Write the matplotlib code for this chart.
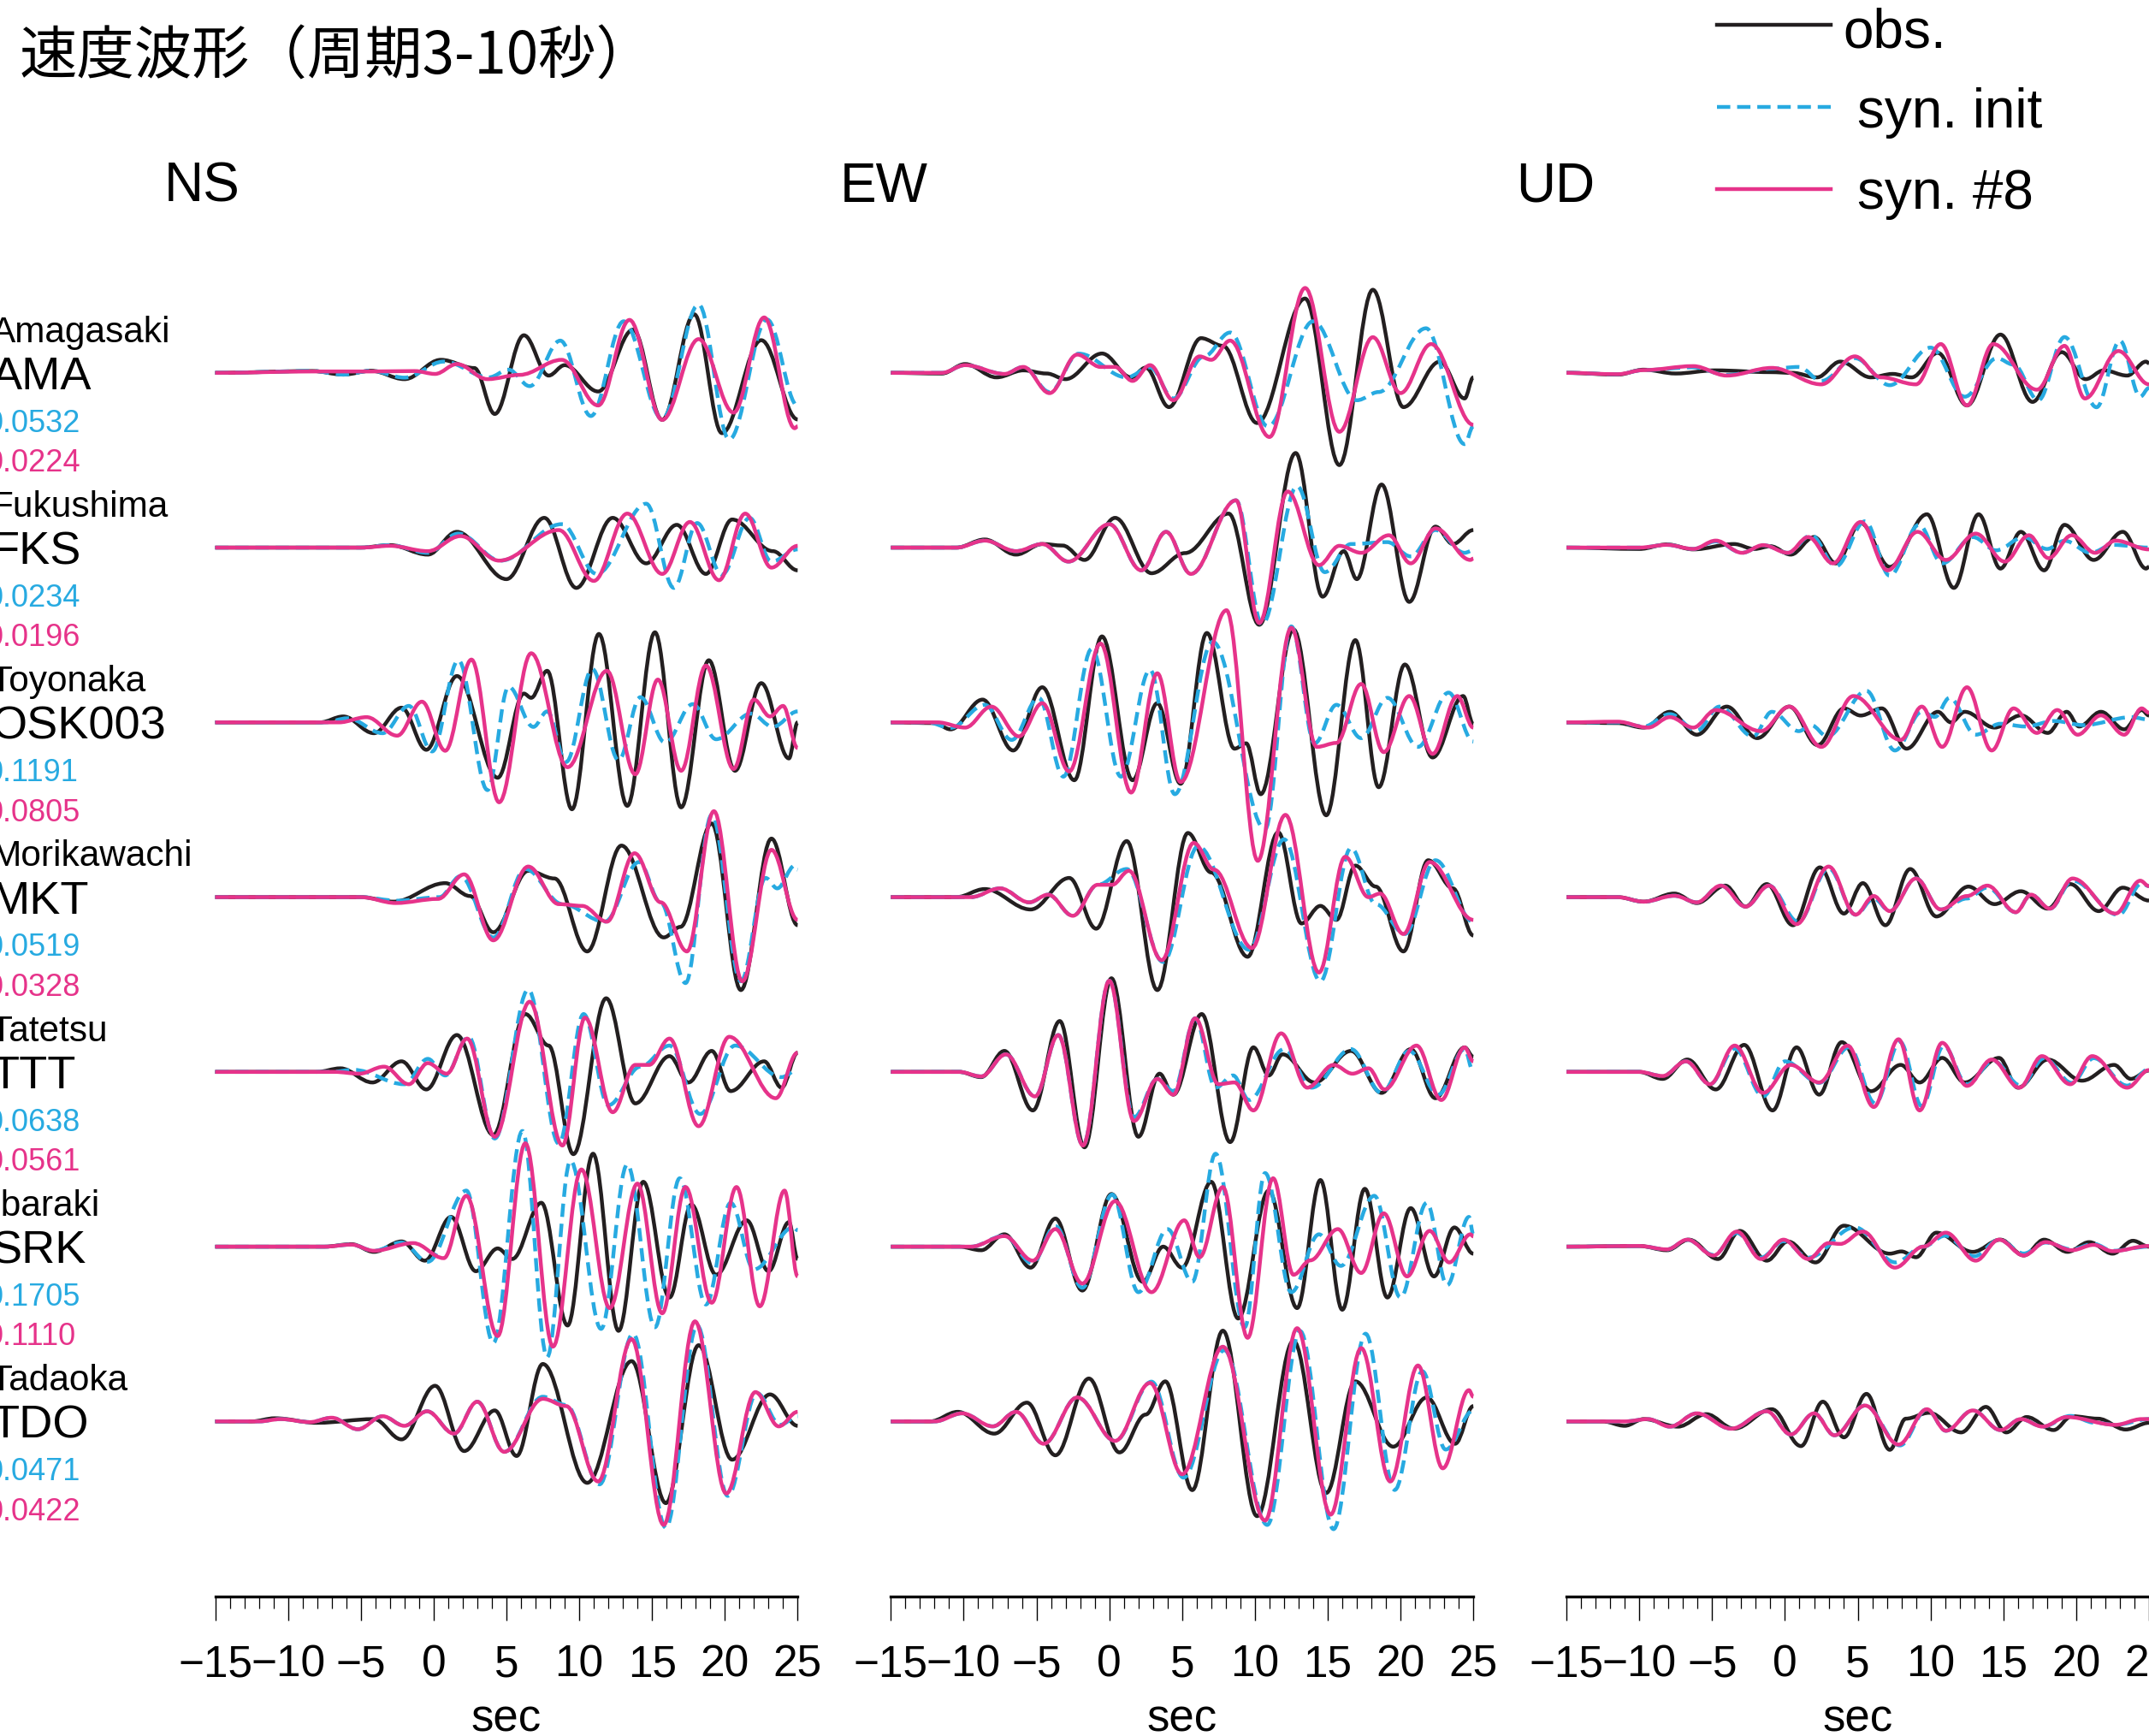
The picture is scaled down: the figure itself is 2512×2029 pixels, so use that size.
import matplotlib
matplotlib.use("Agg")
import matplotlib.pyplot as plt
from matplotlib.path import Path
from matplotlib.patches import PathPatch
from matplotlib.lines import Line2D

plt.rcParams['font.family'] = ['Liberation Sans', 'DejaVu Sans']

COMPONENTS = ["NS", "EW", "UD"]
STATIONS = ["AMA", "FKS", "OSK003", "MKT", "TTT", "SRK", "TDO"]
STATION_NAMES = ["Amagasaki", "Fukushima", "Toyonaka", "Morikawachi",
                 "Tatetsu", "Ibaraki", "Tadaoka"]
MISFIT_INIT = ["0.0532", "0.0234", "0.1191", "0.0519", "0.0638", "0.1705", "0.0471"]
MISFIT_8 = ["0.0224", "0.0196", "0.0805", "0.0328", "0.0561", "0.1110", "0.0422"]
TITLE = "速度波形（周期3-10秒）"
LEGEND_LABELS = ["obs.", "syn. init", "syn. #8"]

# waveform extrema: (time [s], amplitude [px, up positive])
# ---- NS ----
NS_AMA_OBS = [(-15, 0), (-8.3, 1.3), (-6.2, -1.3), (-4.3, 1.5), (-2.0, -4.6), (0.5, 9.5), (2.8, 3.5),
              (4.2, -30), (6.2, 27.4), (7.9, -2), (9.0, 5.6), (11.3, -13.6), (13.7, 31.5), (15.7, -34.3),
              (17.9, 42.7), (19.8, -44), (22.5, 23.8), (25, -34)]
NS_AMA_INIT = [(-15, 0), (-8.3, 1.3), (-6.2, -1.3), (-4.3, 1.5), (-2.0, -3.5), (0.7, 8.2), (3.8, -3.3),
               (5.15, 2.3), (6.6, -9.7), (8.7, 23.5), (10.8, -31.5), (13.05, 37.6), (15.7, -33.5),
               (18.2, 49.9), (20.3, -48.6), (22.9, 38.9), (25, -24)]
NS_AMA_S8 = [(-15, 0), (-8.3, 1), (-4.3, 1), (-1.3, 1.3), (0.1, -0.8), (1.6, 6.4), (3.7, -4.6), (5.9, -1.5),
             (8.8, 9.5), (11.3, -23.8), (13.45, 38.6), (15.7, -34.3), (18.2, 24.6), (20.6, -29),
             (22.7, 40.4), (24.8, -40.4), (25, -39)]

NS_FKS_OBS = [(-15, 0), (-5, 0), (-3.0, 1.8), (-0.4, -5.1), (1.6, 11.5), (5.0, -23), (7.6, 21.7),
              (9.8, -29.4), (12.3, 21.7), (14.6, -11.5), (16.7, 16.6), (18.7, -19.2), (20.5, 20.5),
              (23.3, -2.6), (25, -16.6)]
NS_FKS_INIT = [(-15, 0), (-5, 0), (-3.0, 1.8), (-0.4, -3.8), (1.7, 10.2), (4.6, -9.5), (8.8, 17.1),
               (11.2, -19.2), (14.6, 32), (16.5, -29.4), (18.1, 17.9), (19.8, -19.7), (21.7, 21.7),
               (23.2, -10.2), (25, -1.3)]
NS_FKS_S8 = [(-15, 0), (-5, 0), (-3.0, 1.3), (-0.4, -2.6), (1.85, 8.4), (4.5, -9.5), (8.6, 12.8),
             (11.0, -24.3), (13.3, 24.8), (15.7, -19.2), (17.6, 18.7), (19.6, -23.8), (21.4, 24.8),
             (23.2, -14.6), (25, 1.3)]

NS_OSK003_OBS = [(-15, 0), (-7.8, 0), (-6.2, 4.3), (-4.1, -7.9), (-2.2, 10.7), (-0.5, -20), (1.6, 33.8),
                 (4.4, -40.4), (6.2, 21), (6.7, 17.9), (7.8, 37.6), (9.5, -63.4), (11.35, 64.5),
                 (13.3, -60.9), (15.2, 65.7), (17.0, -62), (18.9, 45.3), (20.7, -35.3), (22.5, 28.6),
                 (24.4, -26.3), (25, 0)]
NS_OSK003_INIT = [(-15, 0), (-7.5, 0), (-5.9, 3), (-3.5, -7.9), (-1.7, 12), (-0.1, -21.2), (1.7, 45.3),
                  (3.7, -49.4), (5.15, 26), (6.85, -3.3), (7.8, 8), (9.1, -28.9), (10.9, 38.9),
                  (12.7, -27.6), (14.2, 18.4), (15.9, -14.8), (17.8, 13.3), (19.4, -12.3), (21.8, 6.4),
                  (23.3, -3.3), (25, 8)]
NS_OSK003_S8 = [(-15, 0), (-6.5, 0), (-4.6, 3.8), (-2.5, -9.7), (-0.8, 15.1), (0.8, -20.7), (2.6, 45.8),
                (4.5, -58.3), (6.7, 50.4), (9.2, -32.7), (11.9, 37.6), (13.85, -37.9), (15.4, 31.2),
                (17.0, -35.3), (18.7, 41.4), (20.6, -34), (22.0, 16.6), (23.1, 4.3), (24.0, 12),
                (25, -18.7)]

NS_MKT_OBS = [(-15, 0), (-5, 0), (-2.75, -3.3), (0.8, 10.2), (2.5, 0.8), (4.1, -25.6), (6.5, 19.2),
              (8.3, 13.6), (10.55, -39.6), (12.9, 37.6), (15.8, -29.4), (16.95, -21.7), (19.1, 53.7),
              (21.1, -67.8), (23.2, 42.7), (25, -20.5)]
NS_MKT_INIT = [(-15, 0), (-5, 0), (-2.5, -2.6), (0.4, 0), (1.85, 15.3), (4.1, -29.4), (6.3, 20.5),
               (8.85, -5.1), (11.75, -17.9), (14.1, 25.6), (15.6, -4), (17.3, -62.7), (19.1, 60),
               (21.1, -61.4), (22.8, 14), (23.6, 6.4), (24.8, 23), (25, 20)]
NS_MKT_S8 = [(-15, 0), (-5, 0), (-2.6, -4.3), (0.3, -1.3), (2.1, 16.6), (4.1, -31.5), (6.5, 22.3),
             (8.6, -5.1), (10.2, -6.4), (11.9, -17.9), (13.8, 32), (15.6, -3.8), (17.4, -39.6),
             (19.25, 62.7), (21.2, -61.4), (23.2, 34.5), (25, -16.6)]

NS_TTT_OBS = [(-15, 0), (-8, 0), (-6.4, 2.6), (-4.2, -7.7), (-2.2, 7.7), (-0.5, -12.8), (1.6, 26.9),
              (4.1, -46), (6.3, 42.2), (7.9, 19.2), (9.6, -60), (11.85, 53.7), (13.85, -23), (16.2, 11.5),
              (17.5, -7.7), (19.1, 15.3), (20.4, -14), (22.7, 7.7), (23.9, -11.5), (25, 14)]
NS_TTT_INIT = [(-15, 0), (-7, 0), (-5.5, 1.5), (-2.0, -9), (-0.4, 9.5), (0.8, -2.6), (2.4, 25.6),
               (4.2, -48.6), (6.5, 60), (8.6, -52.4), (10.3, 42.2), (12.0, -24.3), (14.2, 3.8),
               (16.2, 19.2), (18.3, -30.7), (20.7, 19.2), (23.9, -3.8), (25, 1.5)]
NS_TTT_S8 = [(-15, 0), (-6.8, 0), (-5.1, -1.3), (-3.4, 3.8), (-1.7, -9), (-0.4, 6.4), (0.9, -1.3),
             (2.3, 24.3), (4.2, -47.3), (6.6, 51.2), (8.85, -53.7), (10.4, 39.6), (12.3, -29.4),
             (13.85, 5.1), (14.8, 5.1), (16.2, 24.3), (18.2, -39.6), (20.3, 25.6), (23.5, -19.2), (25, 14)]

NS_SRK_OBS = [(-15, 0), (-7.5, 0), (-5.65, 1.8), (-4.1, -3.8), (-2.2, 3.8), (-0.6, -10.2), (1.2, 21.7),
              (2.9, -17.9), (4.4, -1.3), (5.4, -9), (7.4, 32), (9.2, -57.5), (10.95, 67.8), (12.7, -61.4),
              (14.4, 47.3), (16.2, -37.1), (17.7, 30.7), (19.4, -20.5), (21.5, 19.2), (23.0, -17.9),
              (24.4, 17.9), (25, -9)]
NS_SRK_INIT = [(-15, 0), (-7.5, 0), (-5.65, 1.5), (-4.1, -3), (-2.2, 3), (-0.4, -11), (2.25, 40.9),
               (4.1, -70.3), (6.1, 84.4), (7.8, -80.6), (9.4, 62.7), (11.5, -60), (13.3, 60),
               (15.2, -58.8), (16.9, 49.9), (18.7, -42.2), (20.4, 32), (22.0, -16.6), (24.7, 14), (25, 12)]
NS_SRK_S8 = [(-15, 0), (-7.5, 0), (-5.65, 1.5), (-4.1, -3), (-1.4, 2.6), (0.7, -8.4), (2.25, 37.1),
             (4.4, -65.2), (6.3, 75.4), (8.2, -72.9), (10.15, 56.3), (12.1, -44.8), (14.0, 46),
             (15.7, -48.6), (17.3, 43.5), (19.1, -40.9), (20.8, 43.5), (22.4, -43.5), (24.1, 40.9),
             (25, -21.7)]

NS_TDO_OBS = [(-15, 0), (-12.5, 0), (-10.9, 2.3), (-8, -1), (-4.1, 1.7), (-2.2, -13.1), (0.1, 26),
              (2.1, -21.6), (4.2, 8), (5.7, -25.2), (7.5, 41.9), (10.55, -44.8), (13.6, 44),
              (15.95, -59.6), (18.2, 55.6), (20.5, -27.9), (23.1, 19.7), (25, -3.2)]
NS_TDO_INIT = [(-15, 0), (-12, 0), (-10.5, 1.7), (-8.5, -0.5), (-7, 2.7), (-5.2, -5.7), (-3.5, 3.8),
               (-2.0, -3.2), (-0.45, 7.4), (1.4, -8.9), (3.0, 14.4), (4.85, -22.2), (7.5, 18), (9.1, 12),
               (11.4, -45.9), (13.7, 64), (15.95, -77.6), (18.1, 70), (20.2, -54.3), (22.2, 20.7),
               (23.8, -2.5), (25, 3.8)]
NS_TDO_S8 = [(-15, 0), (-12, 0), (-10.5, 1.7), (-8.5, -0.5), (-7, 2.7), (-5.2, -5.7), (-3.5, 3.8),
             (-2.0, -3.2), (-0.45, 7.4), (1.4, -8.9), (3.0, 14.4), (4.85, -22.2), (7.5, 16.5), (9.1, 11.2),
             (11.3, -43.8), (13.6, 60), (15.8, -75.5), (17.95, 73), (20.1, -52.6), (22.1, 21.4),
             (23.7, -3.6), (25, 7)]

# ---- EW ----
EW_AMA_OBS = [(-15, 0), (-11.5, -0.5), (-9.9, 6.4), (-7.75, -3.3), (-5.9, 1.8), (-4.3, -0.5), (-3.0, -4.6),
              (-0.5, 14.1), (1.5, -3.3), (2.5, 3.8), (4.1, -25), (6.3, 25.3), (7.8, 19.7), (10.15, -36.6),
              (13.45, 54.2), (15.8, -67.3), (18.1, 60.6), (20.2, -25), (22.7, 8.2), (24.4, -18.7),
              (25, -3.3)]
EW_AMA_INIT = [(-15, 0), (-11.5, 0), (-9.9, 5.6), (-7.2, -0.8), (-5.9, 4.3), (-4.1, -14), (-2.1, 14),
               (1.2, -3.3), (2.8, 4), (4.4, -18.7), (6.5, 12), (8.3, 29.4), (10.9, -39.1), (14.0, 37.6),
               (17.0, -20), (18.5, -14), (21.75, 32.5), (24.4, -52), (25, -39)]
EW_AMA_S8 = [(-15, 0), (-11.5, 0), (-9.9, 5.6), (-7.2, -0.8), (-5.9, 4.3), (-4.1, -14.8), (-2.2, 13.3),
             (-0.6, 4.3), (0.4, 4.3), (1.6, -5.9), (2.8, 5.6), (4.4, -20), (6.2, 12), (7.0, 9.5),
             (8.3, 23.5), (11.0, -46.8), (13.45, 61.9), (15.8, -43), (18.1, 26), (20.0, -14.8),
             (22.1, 21), (25, -37.9)]

EW_FKS_OBS = [(-15, 0), (-10.5, 0), (-8.55, 5.9), (-6.4, -5.1), (-4.6, 2.6), (-3.2, 1.5), (-1.7, -9),
              (0.4, 21.7), (2.9, -18.7), (5.2, -4), (8.2, 24.8), (10.3, -56.3), (12.8, 69), (14.65, -35.8),
              (16.1, -2.6), (17.0, -23), (18.7, 46), (20.6, -39.6), (22.4, 15.3), (23.6, 2.6),
              (25, 12.8)]
EW_FKS_INIT = [(-15, 0), (-10.5, 0), (-8.55, 5.1), (-6.4, -2.6), (-4.6, 2.6), (-2.8, -10.2), (0.0, 17.1),
               (2.2, -16.6), (3.9, 11.5), (5.6, -19.2), (8.7, 34.5), (10.5, -56), (12.9, 44.8),
               (14.8, -17.9), (16.6, 2.6), (19.1, 4), (20.7, -6.4), (22.4, 12.8), (24.4, -3.8), (25, -2)]
EW_FKS_S8 = [(-15, 0), (-10.5, 0), (-8.55, 5.1), (-6.4, -2.6), (-4.6, 2.6), (-2.8, -10.2), (0.0, 17.1),
             (2.2, -16.6), (3.9, 11.5), (5.6, -19.2), (8.7, 34.5), (10.3, -55), (12.25, 40.9),
             (14.4, -12.8), (15.8, 1.3), (17.3, -3.8), (19.2, 9), (20.7, -11.5), (22.4, 14), (24.8, -9),
             (25, -8)]

EW_OSK003_OBS = [(-15, 0), (-12, -0.5), (-10.9, -5.1), (-8.7, 16.6), (-6.6, -20.5), (-4.6, 25.6),
                 (-2.4, -42.2), (-0.5, 62.7), (1.6, -42.2), (3.3, 14), (4.9, -44.8), (6.7, 65.2),
                 (8.6, -19.2), (9.4, -15.3), (10.4, -52.4), (12.65, 67.8), (14.9, -67.8), (16.9, 60),
                 (18.5, -47.3), (20.3, 42.2), (22.2, -25.6), (24.3, 19.2), (25, -1.3)]
EW_OSK003_INIT = [(-15, 0), (-12.5, 0), (-10.9, -4), (-8.55, 12.8), (-6.7, -12.8), (-4.85, 17.9),
                  (-3.15, -39.6), (-1.2, 53.7), (0.8, -39.6), (2.8, 38.4), (4.5, -52.4), (7.1, 58.8),
                  (10.7, -78), (12.5, 70), (14.1, -15.3), (15.6, 12.8), (17.3, -11.5), (19.1, 17.9),
                  (21.2, -17.9), (23.3, 21.7), (25, -14)]
EW_OSK003_S8 = [(-15, 0), (-11.8, 0), (-9.9, -3.8), (-8.1, 11.5), (-6.2, -10.2), (-4.6, 14), (-2.75, -35.8),
                (-0.6, 57.5), (1.5, -51.2), (3.3, 35.8), (4.9, -43.5), (8.05, 81.8), (10.2, -101),
                (12.5, 69), (14.25, -17.9), (15.6, -15), (17.3, 28), (18.85, -21.7), (20.6, 19.2),
                (22.2, -23), (23.9, 19.2), (25, -3.8)]

EW_MKT_OBS = [(-15, 0), (-10.5, 0), (-8.55, 5.9), (-5.4, -9), (-2.75, 14), (-0.9, -23), (1.2, 40.9),
              (3.3, -67.8), (5.4, 46.8), (7.0, 18), (9.5, -43.5), (11.6, 47.3), (13.2, -19.2),
              (14.5, -6.4), (15.6, -16.6), (16.9, 23), (18.3, 7.7), (20.2, -39.6), (21.9, 26.9),
              (23.6, 6.4), (25, -28)]
EW_MKT_INIT = [(-15, 0), (-9.5, 0), (-7.5, 6.4), (-5.5, -3.8), (-4.2, 1.8), (-2.5, -13.6), (-0.8, 9),
               (1.2, 20.5), (3.7, -47.3), (6.1, 37.1), (9.6, -38.4), (12.0, 42.2), (14.5, -61.4),
               (16.6, 35.8), (18.3, -5.1), (20.3, -26.9), (22.4, 26.9), (25, -18)]
EW_MKT_S8 = [(-15, 0), (-9.5, 0), (-7.5, 6.4), (-5.5, -3.8), (-4.2, 1.8), (-2.5, -13.6), (-0.8, 9),
             (0.2, 9), (1.35, 19.2), (3.6, -46), (5.8, 39.6), (7.2, 20), (9.8, -37.1), (12.1, 60),
             (14.4, -55), (16.2, 29.4), (17.8, 0), (18.6, 2.6), (20.2, -26.9), (22.0, 25.6), (25, -16.6)]

EW_TTT_OBS = [(-15, 0), (-10.3, 0), (-8.8, -3.8), (-7.2, 15.3), (-5.25, -28.1), (-3.4, 37.1), (-1.7, -55),
              (0.15, 68.3), (2.0, -47.3), (3.45, -1.3), (4.4, -16.6), (6.35, 42.2), (8.3, -51.2),
              (9.9, 17.9), (10.95, -2.6), (11.9, 12.8), (14.1, -7.7), (16.6, 15.3), (18.7, -15.3),
              (20.7, 16.6), (22.4, -19.2), (24.4, 17.9), (25, 11)]
EW_TTT_INIT = [(-15, 0), (-10.3, 0), (-8.8, -3.3), (-7.1, 12.8), (-5.1, -17.9), (-3.5, 26.9),
               (-1.8, -53.7), (0.0, 66.5), (1.7, -33), (3.3, -5.1), (4.4, -14), (5.9, 39.1), (7.3, -11.5),
               (8.5, -2.6), (9.6, -20.5), (12.0, 16.6), (13.9, -11.5), (16.6, 16.6), (18.7, -15.3),
               (20.6, 15.3), (22.6, -16.6), (24.4, 16.6), (25, 0)]
EW_TTT_S8 = [(-15, 0), (-10.3, 0), (-8.8, -3.3), (-7.1, 12.8), (-5.1, -17.9), (-3.5, 26.9), (-1.8, -53.7),
             (0.0, 66.5), (1.7, -35.8), (3.3, -5.1), (4.4, -16.6), (5.9, 39.1), (7.5, -9), (8.6, -7.7),
             (9.9, -28.1), (11.8, 28.1), (13.6, -11.5), (15.4, 5.1), (16.7, -1.3), (17.8, 2.6),
             (18.9, -12.8), (21.1, 19.2), (22.8, -20.5), (24.4, 17.9), (25, 7.7)]

EW_SRK_OBS = [(-15, 0), (-10.3, 0), (-8.8, -2.6), (-7.2, 9), (-5.4, -15.3), (-3.7, 20.5), (-1.85, -32),
              (0.15, 38.4), (2.3, -25.6), (3.7, 0), (5.0, -15.3), (7.0, 47.3), (8.85, -52.4),
              (10.95, 40.9), (12.9, -44.8), (14.5, 48.6), (16.0, -46), (17.55, 42.2), (19.1, -37.1),
              (20.7, 28.1), (22.3, -21.7), (23.7, 14), (25, -5.1)]
EW_SRK_INIT = [(-15, 0), (-9.5, 0), (-7.2, 8), (-5.3, -12), (-3.7, 15), (-1.85, -30), (0.2, 38),
               (2.0, -33.2), (4.0, 12.8), (5.7, -25.6), (7.3, 67.8), (9.3, -58.8), (10.7, 53.7),
               (12.5, -33.2), (14.4, 9), (15.9, -14), (18.2, 37.1), (20.0, -37.1), (21.8, 32),
               (23.2, -28.1), (24.7, 21.7), (25, 9)]
EW_SRK_S8 = [(-15, 0), (-9.5, 0), (-7.2, 7.7), (-5.25, -10.2), (-3.7, 12.8), (-1.85, -26.9), (0.4, 33.2),
             (2.9, -33.2), (5.15, 19.2), (6.2, -7.7), (7.8, 43.5), (9.5, -66.5), (11.25, 49.9),
             (12.65, -20.5), (13.8, -10), (15.7, 12.8), (17.3, -19.2), (18.85, 24.3), (20.45, -21.7),
             (22.0, 11.5), (23.35, -11.5), (24.8, 9), (25, 7.5)]

EW_TDO_OBS = [(-15, 0), (-12.3, 0), (-10.4, 7), (-7.9, -8.9), (-5.65, 13.7), (-3.7, -24.7), (-1.4, 31.3),
              (0.7, -22.6), (2.5, 5), (3.85, 29.2), (5.7, -50.1), (7.8, 66.2), (10.15, -69.1),
              (12.65, 58.8), (14.9, -52.2), (16.9, 29.2), (19.5, -18.4), (21.8, 17.5), (23.75, -16.3),
              (25, 11.2)]
EW_TDO_INIT = [(-15, 0), (-12, 0), (-10.1, 5.9), (-8.0, -3.6), (-6.4, 7), (-4.5, -16.3), (-2.2, 17.5),
               (0.4, -14.2), (2.9, 29), (5.1, -41), (7.9, 52), (10.85, -75.5), (13.1, 66), (15.4, -78.6),
               (17.6, 64), (19.6, -50), (21.5, 36.6), (23.1, -20.5), (25, 8)]
EW_TDO_S8 = [(-15, 0), (-12, 0), (-10.1, 5.9), (-8.0, -3.6), (-6.4, 7), (-4.5, -16.3), (-2.2, 17.5),
             (0.4, -14.2), (2.8, 28.1), (5.0, -38.5), (7.8, 54.5), (10.7, -72.3), (12.9, 68), (15.2, -68),
             (17.3, 53.5), (19.3, -43.8), (21.2, 40.8), (22.9, -34.2), (24.7, 22.8), (25, 18)]

# ---- UD ----
UD_AMA_OBS = [(-15, 0), (-11.5, -1.3), (-9.7, 2.3), (-7.5, -0.5), (-4.8, 1.8), (-1, 0.5), (0.5, 0),
              (2.2, -3.3), (3.8, 8.2), (5.9, -3.3), (7.4, -0.8), (8.7, -3.3), (10.5, 14.6), (12.5, -23.8),
              (14.8, 27.9), (17.0, -21.2), (19.0, 15.1), (20.65, -4.6), (21.9, 1.8), (23.5, -2),
              (24.8, 8.2), (25, 7)]
UD_AMA_INIT = [(-15, 0), (-11.5, -1), (-9.7, 2), (-6.3, 4), (-4, -1.5), (-0.9, 3), (0.95, 4.3), (2.5, -5.9),
               (4.8, 10.7), (7.2, -9), (10.0, 18.4), (12.35, -17.4), (14.55, 10.7), (15.7, 6), (17.4, -20),
               (19.2, 26.1), (21.4, -25.1), (23.0, 23.5), (24.4, -17.4), (25, -11)]
UD_AMA_S8 = [(-15, 0), (-11.5, -1), (-9.7, 2), (-6.3, 4.9), (-4.0, -2), (-0.9, 3.6), (2.5, -8.4), (4.8, 12),
             (6.6, -3.3), (9.0, -8.4), (10.7, 21), (12.5, -23.8), (14.3, 21), (17.3, -12.3), (19.2, 19.7),
             (20.6, -18.7), (22.9, 15.9), (25, -8.4)]

UD_FKS_OBS = [(-15, 0), (-10, -1), (-8.1, 2.3), (-6.3, -1.3), (-3.5, 2.6), (-2.1, -1), (-1, 1), (0.4, -5.1),
              (2.0, 7.7), (3.5, -11.5), (5.2, 17.9), (7.2, -14.1), (9.75, 24.3), (11.6, -29.4),
              (13.3, 24.3), (14.8, -15.3), (16.2, 11.5), (17.8, -16.6), (19.2, 16.6), (21.2, -9),
              (23.2, 11.5), (24.8, -15.3), (25, -14)]
UD_FKS_INIT = [(-15, 0), (-10, 0), (-8.1, 2), (-6.3, -1), (-4.75, 4.5), (-2.95, -3.8), (-1.5, 1.8),
               (0.2, -3.8), (1.8, 9), (3.5, -13.6), (5.5, 19.2), (7.2, -20.5), (9.2, 16.6), (10.8, -11.5),
               (12.9, 7.7), (14.5, -2), (16.4, 7.7), (18, -1), (19.2, 5), (21.0, -3.8), (22.5, 2), (25, 0)]
UD_FKS_S8 = [(-15, 0), (-10, 0), (-8.1, 2), (-6.3, -1), (-4.75, 5.1), (-2.95, -3.8), (-1.5, 1.8),
             (0.2, -3.8), (1.6, 7.7), (3.3, -11.5), (5.2, 18.7), (7.05, -16.6), (9.1, 11.5), (11.05, -9),
             (13.1, 10.2), (15.1, -10.2), (16.75, 9), (18.1, -7.7), (19.7, 9), (21.3, -3.8), (22.7, 5.1),
             (25, -1.3)]

UD_OSK003_OBS = [(-15, 0), (-11.5, -0.5), (-9.7, -3.8), (-7.9, 7.7), (-6.05, -9), (-4.0, 11.5),
                 (-1.9, -11.5), (0.3, 11.5), (2.25, -16.6), (4.05, 10.2), (5.2, 5), (6.65, 10.2),
                 (8.35, -19.2), (10.5, 7.7), (11.4, 0), (12.35, 7.7), (14.4, -3.8), (16.2, 5.1),
                 (18.05, -7.7), (19.35, 7.7), (20.2, -3), (21.7, 7.7), (23.3, -5.1), (24.5, 9), (25, 5)]
UD_OSK003_INIT = [(-15, 0), (-11.5, 0), (-9.7, -3), (-7.9, 6), (-6.05, -6), (-4.5, 11.5), (-2.2, -10.2),
                  (-0.9, 7.7), (0.95, -6.4), (1.8, -2), (2.9, -10.2), (5.6, 23), (7.55, -20.5), (9.4, 7.7),
                  (10.3, 4), (11.3, 17.9), (13.1, -9), (14.8, -1), (16.5, -3), (18.5, 1), (20.5, -2),
                  (23.8, 3.8), (25, 2)]
UD_OSK003_S8 = [(-15, 0), (-11.5, 0.5), (-9.4, -3.8), (-7.9, 3.8), (-6.3, -3.8), (-4.75, 9), (-1.65, -6.4),
                (0.3, 11.5), (2.5, -17.9), (4.7, 19.2), (7.95, -12.8), (9.4, 11.5), (10.8, -17.9),
                (12.5, 25.6), (14.2, -20.5), (15.7, 10.2), (17.3, -7.7), (18.7, 9), (20.1, -9), (21.7, 5.1),
                (23.3, -9), (24.5, 10.2), (25, 7)]

UD_MKT_OBS = [(-15, 0), (-11.5, 0), (-9.7, -3.3), (-7.6, 2.6), (-6.05, -4.3), (-4.1, 8.4), (-2.7, -6.9),
              (-1.25, 9.5), (0.55, -20.5), (2.4, 21.7), (4.05, -12), (5.35, 10.2), (6.9, -20.5),
              (8.6, 20.5), (10.4, -14.1), (12.6, 7.7), (14.4, -5.1), (16.2, 4.3), (18.05, -8.4),
              (19.6, 9.5), (21.55, -10.2), (23.2, 6.9), (25, -2.5)]
UD_MKT_INIT = [(-15, 0), (-11.5, 0), (-9.7, -3.3), (-7.6, 1), (-6.05, -3.8), (-4.4, 8.4), (-2.7, -6.9),
               (-1.1, 8.4), (0.9, -17.9), (3.0, 21), (4.85, -12.8), (6.1, -1), (7.2, -10.2), (9.0, 13.6),
               (10.7, -9), (12.5, -1), (13.9, 7), (15.85, -11), (16.9, 1.8), (18.2, -8.4), (19.75, 12),
               (22.9, -13), (24.5, 10), (25, 8)]
UD_MKT_S8 = [(-15, 0), (-11.5, 0), (-9.7, -3.3), (-7.6, 1), (-6.05, -3.8), (-4.4, 8.4), (-2.7, -6.9),
             (-1.1, 8.4), (0.8, -19.7), (3.0, 22.3), (4.85, -12.8), (6.1, 0.8), (7.2, -10.2), (9.0, 13.6),
             (10.7, -9), (12.5, 0.8), (13.9, 8.4), (15.85, -11), (16.9, 1.8), (18.2, -8.4), (19.75, 13.6),
             (22.7, -12), (24.4, 12), (25, 8)]

UD_TTT_OBS = [(-15, 0), (-10, 0), (-8.4, -5.1), (-6.7, 9), (-4.75, -12.8), (-2.8, 19.7), (-0.85, -28.1),
              (0.8, 17.9), (2.35, -16.6), (3.9, 21.7), (5.9, -14.1), (7.95, 5.1), (9.25, -7.7),
              (10.8, 10.2), (12.35, -7.7), (14.7, 10.2), (16.0, -11.5), (18.05, 9), (20.4, -6.4),
              (22.6, 5.1), (23.75, -5.1), (25, 1)]
UD_TTT_INIT = [(-15, 0), (-10, 0), (-8.4, -3), (-6.8, 7.7), (-5.15, -9), (-3.45, 17), (-1.5, -17.9),
               (0.0, 7.7), (2.35, -8), (4.4, 18), (6.2, -23), (7.9, 22), (9.4, -25), (10.9, 19), (12.5, -9),
               (14.3, 8), (16.2, -10), (17.8, 10), (19.7, -8), (21.2, 10), (23.5, -10), (25, 2)]
UD_TTT_S8 = [(-15, 0), (-10, 0), (-8.4, -3), (-6.8, 7.7), (-5.15, -9), (-3.45, 19.2), (-1.5, -15.3),
             (0.4, 5.1), (2.35, -7.7), (4.3, 19.2), (6.1, -25.6), (7.8, 23.8), (9.25, -28.1), (10.8, 21.2),
             (12.5, -10.2), (14.2, 9), (16.1, -11.5), (17.65, 11.5), (19.6, -9), (21.1, 11.5),
             (23.5, -11.5), (25, 1.3)]

UD_SRK_OBS = [(-15, 0), (-10, 0.5), (-8.1, -2.6), (-6.6, 5.1), (-4.6, -9), (-3.1, 11.5), (-1.25, -10.2),
              (0.2, 3.8), (2.1, -11.5), (4.05, 15.3), (7.2, -5.1), (8.0, -3.5), (9.0, -7.7), (10.4, 10.2),
              (12.9, -3.8), (14.8, 5.1), (16.4, -6.4), (17.8, 5.1), (19.4, -3.8), (20.9, 3.3),
              (22.5, -5.1), (23.9, 4.3), (25, 0)]
UD_SRK_INIT = [(-15, 0), (-10, 0.5), (-8.1, -2), (-6.7, 5), (-4.9, -6), (-3.3, 10), (-1.65, -8), (-0.1, 4),
               (1.6, -8), (4.8, 14.1), (7.6, -11.5), (9.5, 0), (11, 8), (13.0, -7), (14.7, 5), (16.4, -5),
               (17.9, 3), (19.7, -2), (21.2, 2), (22.5, -3), (25, 0)]
UD_SRK_S8 = [(-15, 0), (-10, 0.5), (-8.1, -2), (-6.7, 5.1), (-4.9, -6.4), (-3.3, 11), (-1.65, -9),
             (-0.1, 5.1), (1.6, -9), (3.0, 2.6), (3.8, 2), (5.35, 11), (7.55, -15.3), (9.5, 0),
             (11.05, 10.2), (13.1, -10.2), (14.7, 5.1), (16.4, -6.4), (17.9, 3.3), (19.7, -2.6),
             (21.2, 1.3), (22.5, -3.3), (25, 0.5)]

UD_TDO_OBS = [(-15, 0), (-12.5, 0), (-11, -3.2), (-9.7, 1.7), (-7.35, -3.8), (-5.4, 5.3), (-3.5, -5.3),
              (-0.9, 8.9), (1.1, -18), (2.6, 14.4), (4.05, -11.6), (5.6, 20.1), (7.2, -20.7), (8.3, 2),
              (9.9, 6.3), (12.1, -8), (13.8, 10.6), (15.2, -8), (16.6, 3.2), (18.45, -6.3), (19.7, 3.8),
              (21.5, 2), (23.4, -5.9), (25, -1)]
UD_TDO_INIT = [(-15, 0), (-11, 0), (-9.4, 1.7), (-7.9, -3.8), (-6.05, 5.9), (-3.7, -5.3), (-1.25, 7.4),
               (0.4, -9.5), (2.0, 5.9), (3.4, -10.1), (5.5, 11.6), (7.9, -17.5), (9.75, 8.9), (11.05, -6.8),
               (12.9, 8), (14.8, -6.3), (16.2, 1.7), (17.7, -3.8), (19.6, 4), (21.3, -1), (22.7, -2.5),
               (25, 1.7)]
UD_TDO_S8 = [(-15, 0), (-11, 0), (-9.4, 1.7), (-7.9, -3.8), (-6.05, 5.9), (-3.7, -5.3), (-1.25, 7.4),
             (0.4, -9.5), (2.0, 5.9), (3.4, -10.1), (5.5, 11.6), (7.8, -16.9), (9.75, 8.9), (11.05, -6.8),
             (12.9, 8), (14.8, -6.3), (16.2, 1.7), (17.7, -3.8), (19.35, 3.2), (22.7, -2.5), (24.5, 1.7),
             (25, 1.7)]

C_OBS = '#231F20'
C_INIT = '#27AAE1'
C_S8 = '#E6338A'

W, H = 1568.0, 1266.5          # layout grid (reference pixels / 1.6)
def fx(x): return x / W
def fy(y): return 1 - y / H

ROW0, ROW_STEP = 272, 127.5
PANEL_LEFT = [157, 650, 1143]
PANEL_W = 425
AXIS_Y, TOP_Y = 1165, 200


def wave_path(pts, base, k=0.36):
    # smooth curve through the read-off peaks and troughs
    verts = [(pts[0][0], base + pts[0][1])]
    codes = [Path.MOVETO]
    for (t0, a0), (t1, a1) in zip(pts[:-1], pts[1:]):
        dt = t1 - t0
        verts += [(t0 + k * dt, base + a0), (t1 - k * dt, base + a1), (t1, base + a1)]
        codes += [Path.CURVE4] * 3
    return Path(verts, codes)


fig = plt.figure(figsize=(25.12, 20.29), dpi=100)

styles = [dict(edgecolor=C_OBS, linestyle='-'),
          dict(edgecolor=C_INIT, linestyle=(0, (3.5, 1.8))),
          dict(edgecolor=C_S8, linestyle='-')]

for ci, comp in enumerate(COMPONENTS):
    ax = fig.add_axes([fx(PANEL_LEFT[ci]), fy(AXIS_Y), PANEL_W / W, (AXIS_Y - TOP_Y) / H])
    ax.set_xlim(-15, 25)
    ax.set_ylim(-AXIS_Y, -TOP_Y)
    for si, sta in enumerate(STATIONS):
        base = -(ROW0 + ROW_STEP * si)
        traces = [globals()[f"{comp}_{sta}_{kind}"] for kind in ("OBS", "INIT", "S8")]
        for z, (pts, st) in enumerate(zip(traces, styles)):
            ax.add_patch(PathPatch(wave_path(pts, base), facecolor='none', lw=3.2,
                                   capstyle='butt', joinstyle='round', zorder=2 + z,
                                   clip_on=False, **st))
    for s in ('left', 'right', 'top'):
        ax.spines[s].set_visible(False)
    ax.spines['bottom'].set_linewidth(2.4)
    ax.set_yticks([])
    ax.set_xticks(range(-15, 26, 5))
    ax.set_xticks(range(-15, 26, 1), minor=True)
    ax.tick_params(axis='x', which='major', direction='out', length=20, width=1.0,
                   labelsize=37, pad=20)
    ax.tick_params(axis='x', which='minor', direction='out', length=10, width=0.9)
    ax.set_xlabel("sec", fontsize=38, labelpad=10)
    ax.patch.set_visible(False)
    fig.text(fx(PANEL_LEFT[ci] - 37), fy(147), comp, fontsize=46, va='baseline', ha='left')

# station labels on the left edge (cut by the figure edge as in the original)
for si in range(len(STATIONS)):
    dy = ROW_STEP * si
    fig.text(fx(-6.6), fy(249.5 + dy), STATION_NAMES[si], fontsize=30.5, va='baseline')
    fig.text(fx(-6.6), fy(284 + dy), STATIONS[si], fontsize=39, va='baseline')
    fig.text(fx(-10), fy(315 + dy), MISFIT_INIT[si], fontsize=26, color=C_INIT, va='baseline')
    fig.text(fx(-10), fy(344 + dy), MISFIT_8[si], fontsize=26, color=C_S8, va='baseline')

# title
fig.text(fx(14), fy(54), TITLE, fontsize=48.5, va='baseline',
         family=['Noto Sans CJK JP', 'DejaVu Sans'])

# legend
leg_y = [18, 78, 138]
leg_text = [(1345, 34.5), (1355, 93), (1355, 152)]
for (lab, y, (tx, tb), st) in zip(LEGEND_LABELS, leg_y, leg_text, styles):
    fig.add_artist(Line2D([fx(1253), fx(1336)], [fy(y), fy(y)], transform=fig.transFigure,
                          color=st['edgecolor'], lw=3.2, linestyle=st['linestyle'],
                          dash_capstyle='butt'))
    fig.text(fx(tx), fy(tb), lab, fontsize=46, va='baseline')

fig.savefig("out.png", dpi=100)
